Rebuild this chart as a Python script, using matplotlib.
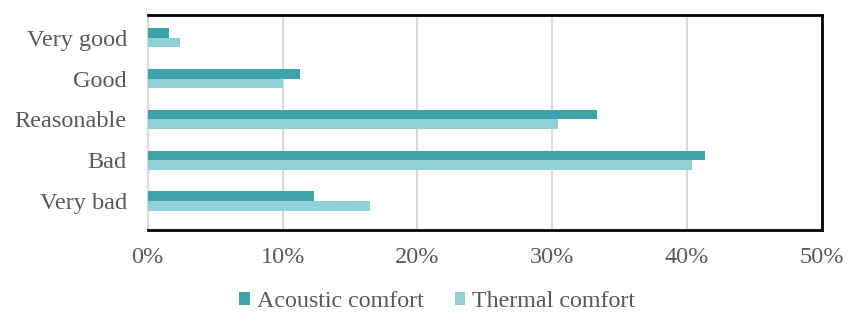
import numpy as np
import matplotlib.pyplot as plt
from matplotlib.ticker import PercentFormatter

categories = ['Very bad', 'Bad', 'Reasonable', 'Good', 'Very good']
acoustic = [12.3, 41.3, 33.3, 11.3, 1.6]
thermal = [16.5, 40.4, 30.4, 10.0, 2.4]

plt.rcParams['font.family'] = ['Liberation Serif', 'DejaVu Serif']

fig = plt.figure(figsize=(8.49, 3.15), dpi=100)
ax = fig.add_axes([0.174, 0.27, 0.794, 0.682])

y = np.arange(len(categories))
h = 0.24
ax.barh(y + h / 2, acoustic, height=h, color='#3ba3a9', label='Acoustic comfort', zorder=3)
ax.barh(y - h / 2, thermal, height=h, color='#90d0d6', label='Thermal comfort', zorder=3)

ax.set_xlim(0, 50)
ax.set_ylim(-0.7, 4.55)
ax.set_xticks(np.arange(0, 51, 10))
ax.xaxis.set_major_formatter(PercentFormatter(decimals=0))
ax.set_yticks(y)
ax.set_yticklabels(categories)
ax.tick_params(length=0, labelsize=17.5, labelcolor='#595959')
ax.tick_params(axis='x', pad=12)
ax.tick_params(axis='y', pad=15)
ax.grid(axis='x', color='#d9d9d9', linewidth=1.5, zorder=0)

for s in ['top', 'right', 'bottom']:
    ax.spines[s].set_linewidth(2)
    ax.spines[s].set_color('black')
ax.spines['left'].set_color('#d9d9d9')
ax.spines['left'].set_linewidth(1.5)

leg = fig.legend(loc='lower center', bbox_to_anchor=(0.515, -0.06), ncol=2, frameon=False,
                 fontsize=17.3, handlelength=0.42, handleheight=0.42, handletextpad=0.3,
                 columnspacing=1.3)
for t in leg.get_texts():
    t.set_color('#595959')

fig.savefig('out.png', dpi=100)
